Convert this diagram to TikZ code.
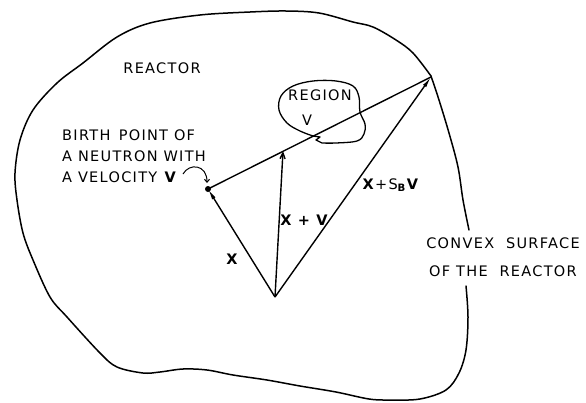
\documentclass[tikz,border=0pt]{standalone}
\usepackage{fontspec}
\setmainfont{DejaVu Sans}[LetterSpace=9]
\usetikzlibrary{arrows.meta}
\begin{document}
\begin{tikzpicture}[x=1pt,y=-1pt,
  outline/.style={line width=1.5pt,line join=round,line cap=round},
  vec/.style={line width=1.4pt},
  heavy/.style={-{Latex[length=11pt,width=4pt]}},
  thinhead/.style={-{Straight Barb[length=6pt,width=5pt]}},
  lbl/.style={inner sep=0pt,font=\fontsize{14.5}{16}\selectfont},
  blbl/.style={inner sep=0pt,font=\fontsize{14.5}{16}\selectfont\bfseries}]
\useasboundingbox (0,0) rectangle (586,402);
% reactor outline (open at the right where the label sits)
\draw[outline] plot[smooth,tension=0.55] coordinates {
  (466,286) (468,317) (466,350) (459,373) (446,390) (420,399) (390,400) (369,399)
  (336,392) (300,386) (267,380) (233,375) (207,370) (183,369) (160,372) (143,373)
  (117,367) (100,353) (67,317) (50,297) (33,260) (23,233) (17,200) (15,173)
  (20,140) (33,110) (57,83) (83,63) (117,37) (150,23) (200,15) (250,12)
  (286,11) (319,13) (353,22) (373,27) (396,40) (413,53) (431,76)};
\draw[outline] plot[smooth,tension=0.55] coordinates {
  (431,76) (439,100) (449,133) (458,167) (463,200) (469,230)};
% region V
\draw[outline,line width=1.3pt] plot[smooth,tension=0.6] coordinates {
  (313,136) (300,131) (287,123) (279,110) (281,96) (293,86) (313,81) (336,81)
  (353,86) (359,97) (360,112) (365,124) (364,134) (357,141) (336,143) (322,143)}
  -- (316,140) -- (320,137) -- (313,136);
% points
\coordinate (O) at (275,297);
\coordinate (B) at (208,189);
\coordinate (C) at (431,77);
\coordinate (P) at (283,151);
% vectors
\draw[vec] (B) -- (C);
\draw[vec,heavy] (O) -- (B);
\draw[vec,thinhead] (O) -- (P);
\draw[vec,heavy] (O) -- (C);
\fill (B) circle (3pt);
% curved pointer
\coordinate (pa) at (183,174);
\coordinate (pb) at (207,183);
\draw[line width=1pt,-{Straight Barb[length=3pt,width=5pt]}] (pa) .. controls (189,163) and (207,164) .. (pb);
% labels
\node[lbl] (reactor) at (162,68) {REACTOR};
\node[lbl,anchor=west,align=left,font=\fontsize{14.5}{21}\selectfont] (birth) at (62,156)
  {BIRTH\ \,POINT OF\\A NEUTRON WITH\\A VELOCITY \textbf{V}};
\node[lbl] (region) at (320,95) {REGION};
\node[lbl] (regv) at (307,120) {V};
\node[lbl,align=center,font=\fontsize{14.5}{28}\selectfont] (convex) at (503,257)
  {CONVEX\ \ SURFACE\\OF THE\ \ REACTOR};
\node[blbl] (lx) at (232,259) {X};
\node[blbl] (lxv) at (304,220) {X + V};
\node[lbl] (lxs) at (391,185) {\textbf{X}+S\textsubscript{\textbf{B}}\textbf{V}};
\end{tikzpicture}
\end{document}
